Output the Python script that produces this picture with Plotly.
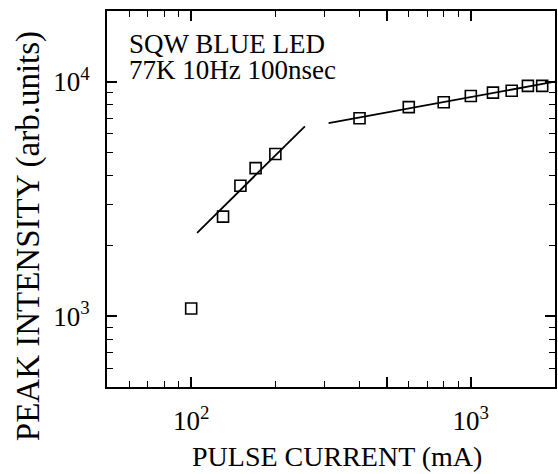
import plotly.graph_objects as go

# ---- data ----
current_low = [100, 130, 150, 170, 200]
intensity_low = [1080, 2660, 3600, 4280, 4920]
current_high = [400, 600, 800, 1000, 1200, 1400, 1600, 1800]
intensity_high = [6980, 7790, 8170, 8690, 8980, 9150, 9590, 9590]

fit_low_x = [105, 255]
fit_low_y = [2270, 6450]
fit_high_x = [310, 2000]
fit_high_y = [6650, 10000]

x_major = [100, 500, 1000]
x_major_text = ["10<sup>2</sup>", "", "10<sup>3</sup>"]
x_minor = [60, 70, 80, 90, 200, 300, 400, 600, 700, 800, 900]
y_major = [1000, 10000]
y_major_text = ["10<sup>3</sup>", "10<sup>4</sup>"]
y_minor = [600, 700, 800, 900, 2000, 3000, 4000, 5000, 6000, 7000, 8000, 9000]

FONT = "Liberation Serif"
marker = dict(symbol="square-open", size=11, color="black", line=dict(width=1.6, color="black"))

fig = go.Figure()
fig.add_trace(go.Scatter(x=fit_low_x, y=fit_low_y, mode="lines",
                         line=dict(color="black", width=1.8), showlegend=False))
fig.add_trace(go.Scatter(x=fit_high_x, y=fit_high_y, mode="lines",
                         line=dict(color="black", width=1.8), showlegend=False))
fig.add_trace(go.Scatter(x=current_low, y=intensity_low, mode="markers",
                         marker=marker, showlegend=False))
fig.add_trace(go.Scatter(x=current_high, y=intensity_high, mode="markers",
                         marker=marker, showlegend=False))

axis_common = dict(
    type="log", showgrid=False, zeroline=False, showline=True,
    linecolor="black", linewidth=1.8, mirror="ticks",
    ticks="inside", ticklen=10, tickwidth=1.5, tickcolor="black",
    tickfont=dict(family=FONT, size=27, color="black"),
)

fig.update_xaxes(**axis_common, range=[1.69897, 3.30103], ticklabelstandoff=9,
                 tickmode="array", tickvals=x_major, ticktext=x_major_text,
                 minor=dict(ticks="inside", ticklen=6, tickwidth=1.3, tickcolor="black",
                            tickmode="array", tickvals=x_minor, showgrid=False))
fig.update_yaxes(**axis_common, range=[2.69897, 4.30103], ticklabelstandoff=10,
                 tickmode="array", tickvals=y_major, ticktext=y_major_text,
                 minor=dict(ticks="inside", ticklen=6, tickwidth=1.3, tickcolor="black",
                            tickmode="array", tickvals=y_minor, showgrid=False))

fig.update_layout(
    width=558, height=474,
    margin=dict(l=107, r=1, t=11, b=87),
    paper_bgcolor="white", plot_bgcolor="white",
    font=dict(family=FONT, color="black"),
    annotations=[
        dict(text="SQW BLUE LED", xref="paper", yref="paper", x=0.044, y=0.912,
             xanchor="left", yanchor="middle", showarrow=False,
             font=dict(family=FONT, size=27, color="black")),
        dict(text="77K 10Hz 100nsec", xref="paper", yref="paper", x=0.044, y=0.843,
             xanchor="left", yanchor="middle", showarrow=False,
             font=dict(family=FONT, size=27, color="black")),
        dict(text="PULSE CURRENT (mA)", xref="paper", yref="paper", x=0.513, y=-0.186,
             xanchor="center", yanchor="middle", showarrow=False,
             font=dict(family=FONT, size=28, color="black")),
        dict(text="PEAK INTENSITY (arb.units)", xref="paper", yref="paper", x=-0.175, y=0.40,
             xanchor="center", yanchor="middle", showarrow=False, textangle=-90,
             font=dict(family=FONT, size=33, color="black")),
    ],
)

fig.write_html("out.html")
